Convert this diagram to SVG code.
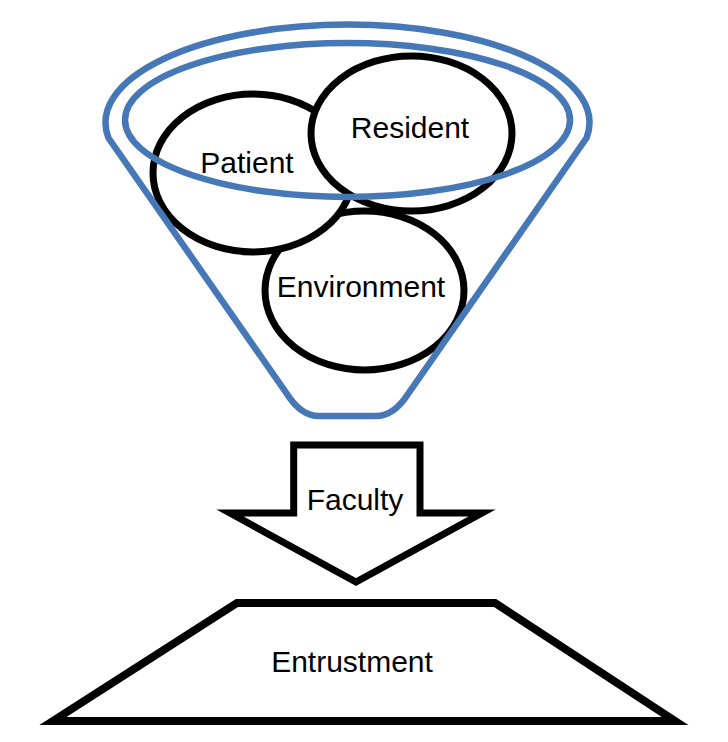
<svg xmlns="http://www.w3.org/2000/svg" width="728" height="742" viewBox="0 0 728 742">
  <style>
    .bubble { fill: #ffffff; stroke: #000000; stroke-width: 7; }
    .funnel { fill: none; stroke: #4677b6; stroke-width: 6.5; stroke-linejoin: round; }
    .shape { fill: #ffffff; stroke: #000000; stroke-width: 7; stroke-linejoin: miter; stroke-miterlimit: 10; }
    .label { font-family: "Liberation Sans", Arial, sans-serif; font-size: 30px; fill: #000000; text-anchor: middle; }
  </style>
  <rect width="728" height="742" fill="#ffffff"/>
  <g id="environment">
    <ellipse class="bubble" cx="364.5" cy="290.5" rx="99.5" ry="79.5"/>
    <text class="label" x="361" y="297">Environment</text>
  </g>
  <g id="patient">
    <ellipse class="bubble" cx="253" cy="173" rx="100" ry="79"/>
    <text class="label" x="247" y="173">Patient</text>
  </g>
  <g id="resident">
    <ellipse class="bubble" cx="411.5" cy="133.5" rx="100.5" ry="77.5"/>
    <text class="label" x="410" y="138">Resident</text>
  </g>
  <g id="funnel">
    <ellipse class="funnel" cx="347.5" cy="120" rx="222.5" ry="77"/>
    <path class="funnel" d="M108.5,138 A242,98 0 1 1 586.5,138 L408,394 Q394,416 376,416 L319,416 Q301,416 287,394 Z"/>
  </g>
  <g id="faculty">
    <path class="shape" d="M293.7,445 L420,445 L420,513 L482,513 L356,582 L230,513 L293.7,513 Z"/>
    <text class="label" x="355" y="510">Faculty</text>
  </g>
  <g id="entrustment">
    <path class="shape" d="M237,603 L495,603 L675,721 L53,721 Z" style="stroke-width:8"/>
    <text class="label" x="352" y="672">Entrustment</text>
  </g>
  <g id="connectors"></g>
</svg>
